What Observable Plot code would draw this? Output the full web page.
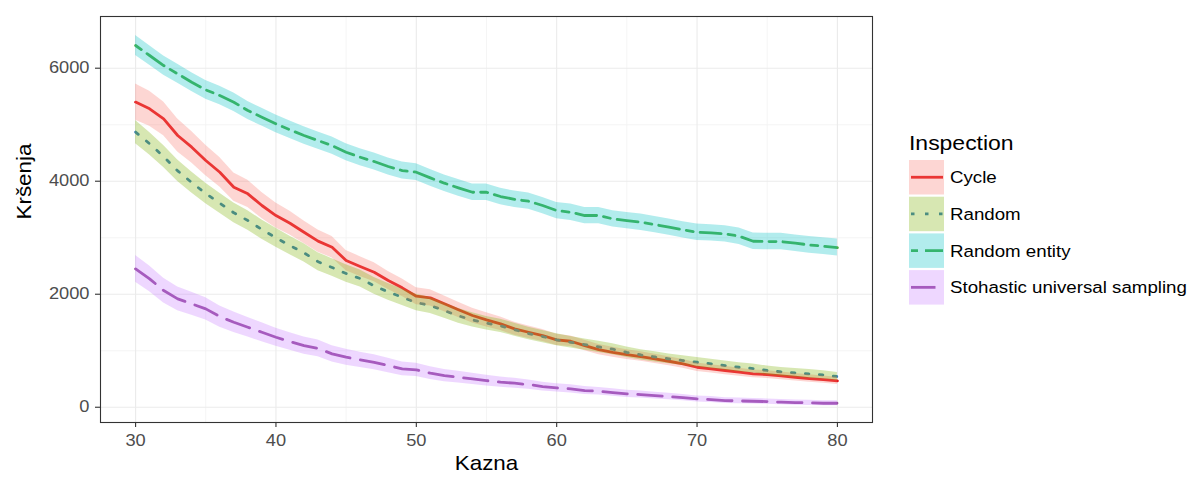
<!DOCTYPE html>
<html><head><meta charset="utf-8">
<script src="https://cdn.jsdelivr.net/npm/d3@7"></script>
<script src="https://cdn.jsdelivr.net/npm/@observablehq/plot@0.6"></script>
<style>
body{margin:0;background:#fff;font-family:"Liberation Sans",Arial,Helvetica,sans-serif;}
#wrap{position:relative;width:1189px;height:477px;}
#chart{position:absolute;left:0;top:0;}
#legend{position:absolute;left:880px;top:0;}
</style></head><body>
<div id="wrap"><div id="chart"></div><svg id="legend" width="309" height="477"></svg></div>
<script>
const kazna = [30,31,32,33,34,35,36,37,38,39,40,41,42,43,44,45,46,47,48,49,50,51,52,53,54,55,56,57,58,59,60,61,62,63,64,65,66,67,68,69,70,71,72,73,74,75,76,77,78,79,80];

const seriesNames = ["Cycle", "Random", "Random entity", "Stohastic universal sampling"];

const cycleVals = [5400,5281,5104,4809,4602,4366,4159,3894,3777,3570,3393,3257,3097,2940,2832,2596,2490,2389,2242,2113,1965,1936,1830,1724,1623,1546,1476,1388,1327,1269,1193,1168,1092,1021,973,933,897,857,814,768,708,679,650,620,591,579,555,531,508,490,467];
const cycleSe = [320,310,300,290,280,270,260,250,240,230,220,210,200,195,190,180,175,170,160,155,150,145,140,135,130,125,120,115,110,105,100,95,92,90,88,86,84,82,80,78,76,75,74,72,70,69,68,67,66,65,64];

const randomVals = [4870,4662,4437,4184,3977,3782,3611,3441,3304,3145,2998,2862,2732,2576,2473,2366,2278,2148,2042,1947,1853,1800,1711,1617,1546,1487,1441,1372,1304,1251,1193,1150,1109,1068,1027,973,926,891,856,826,797,768,738,708,685,650,626,608,590,573,543];
const randomSe = [205,200,195,190,186,182,178,175,172,170,168,165,162,160,157,155,152,150,148,147,146,140,135,130,125,120,117,114,111,108,106,103,100,98,96,94,92,90,88,86,84,83,82,81,80,79,78,77,76,75,74];

const entityVals = [6402,6225,6047,5900,5752,5617,5516,5398,5251,5133,5015,4909,4809,4720,4631,4513,4425,4349,4260,4189,4159,4059,3965,3883,3805,3805,3729,3680,3646,3570,3481,3451,3393,3393,3334,3304,3274,3233,3186,3140,3097,3086,3069,3027,2938,2932,2932,2903,2873,2850,2826];
const entitySe = [175,172,170,168,166,165,163,162,160,158,156,155,154,153,152,151,150,150,149,149,148,148,147,147,146,146,145,145,144,144,144,144,144,144,144,144,144,144,144,144,144,145,145,145,146,146,147,147,148,149,150];

const stohVals = [2449,2272,2065,1918,1830,1741,1605,1504,1416,1327,1239,1163,1092,1040,945,885,838,796,738,679,661,602,561,531,502,472,443,425,401,366,342,325,295,283,260,236,224,206,189,171,148,136,118,112,106,100,89,83,77,71,71];
const stohSe = [236,228,220,212,204,196,188,181,174,167,160,156,152,148,144,140,136,132,128,123,118,113,108,104,99,95,91,87,83,78,74,72,70,68,66,64,62,60,58,56,53,52,51,50,49,48,47,46,45,45,44];

const xMajor = [30,40,50,60,70,80];
const xMinor = [35,45,55,65,75];
const yMajor = [0,2000,4000,6000];
const yMinor = [1000,3000,5000];

const lineColors = ["#E41A1C", "#377EB8", "#4DAF4A", "#984EA3"];
const fillColors = ["#F8766D", "#7CAE00", "#00BFC4", "#C77CFF"];
const dashes = [null, "3.5,10.5", "7,7,21,7", "24.5,10.5"];

const allVals = [cycleVals, randomVals, entityVals, stohVals];
const allSe = [cycleSe, randomSe, entitySe, stohSe];

const rows = [];
seriesNames.forEach((s, i) => {
  kazna.forEach((k, j) => {
    rows.push({series: s, x: k, y: allVals[i][j], lo: allVals[i][j] - allSe[i][j], hi: allVals[i][j] + allSe[i][j]});
  });
});

const font = '"Liberation Sans", Arial, Helvetica, sans-serif';
const lineW = 2.8;
const stretch = 1.12;

const lineMarks = seriesNames.map((s, i) =>
  Plot.line(rows.filter(d => d.series === s), {
    x: "x", y: "y", stroke: lineColors[i], strokeWidth: lineW,
    strokeDasharray: dashes[i] || undefined, strokeLinejoin: "round"
  }));
const areaMarks = seriesNames.map((s, i) =>
  Plot.areaY(rows.filter(d => d.series === s), {
    x: "x", y1: "lo", y2: "hi", fill: fillColors[i], fillOpacity: 0.3
  }));

const chart = Plot.plot({
  width: 880, height: 477,
  marginLeft: 100, marginRight: 8, marginTop: 16, marginBottom: 55,
  x: {domain: [27.5, 82.5], label: null},
  y: {domain: [-270, 6915], label: null},
  style: {fontFamily: font, background: "white"},
  marks: [
    Plot.ruleX(xMinor, {stroke: "#F2F2F2", strokeWidth: 0.8}),
    Plot.ruleY(yMinor, {stroke: "#F2F2F2", strokeWidth: 0.8}),
    Plot.ruleX(xMajor, {stroke: "#EBEBEB", strokeWidth: 1.1}),
    Plot.ruleY(yMajor, {stroke: "#EBEBEB", strokeWidth: 1.1}),
    ...lineMarks,
    ...areaMarks,
    Plot.frame({stroke: "#333333", strokeWidth: 1.1}),
    Plot.axisX(xMajor, {tickSize: 5, tickPadding: 7, fontSize: 16.3, fill: "#4D4D4D", stroke: "#333333", strokeWidth: 1.1, label: null, tickFormat: d => String(d)}),
    Plot.axisY(yMajor, {tickSize: 5, tickPadding: 6, fontSize: 16.3, fill: "#4D4D4D", stroke: "#333333", strokeWidth: 1.1, label: null, tickFormat: d => String(d)}),
    Plot.text(["Kazna"], {frameAnchor: "bottom", dy: 47, fontSize: 20, fill: "black"}),
    Plot.text(["Kršenja"], {frameAnchor: "left", dx: -76, rotate: -90, fontSize: 20, fill: "black"})
  ]
});
document.getElementById("chart").appendChild(chart);

// Legend
const lg = d3.select("#legend").style("font-family", font);
lg.append("text").attr("x", 29).attr("y", 150).attr("font-size", 20.5).attr("fill", "black").text("Inspection");
seriesNames.forEach((s, i) => {
  const y0 = 160 + i * 36.7;
  const g = lg.append("g");
  g.append("rect").attr("x", 29).attr("y", y0).attr("width", 35).attr("height", 34.5).attr("fill", "white");
  const ln = g.append("line").attr("x1", 31).attr("x2", 63).attr("y1", y0 + 17.25).attr("y2", y0 + 17.25)
    .attr("stroke", lineColors[i]).attr("stroke-width", lineW);
  if (dashes[i]) ln.attr("stroke-dasharray", dashes[i]);
  g.append("rect").attr("x", 29).attr("y", y0).attr("width", 35).attr("height", 34.5)
    .attr("fill", fillColors[i]).attr("fill-opacity", 0.3);
  g.append("text").attr("x", 70).attr("y", y0 + 17.25).attr("dy", "0.36em").attr("font-size", 16.7)
    .attr("fill", "black").text(s);
});

// The reference glyphs are slightly wider than Liberation Sans: stretch text horizontally about its anchor.
const isNum = v => v != null && v !== "" && isFinite(+v);
document.querySelectorAll("#wrap text").forEach(el => {
  const xa = el.getAttribute("x"), ya = el.getAttribute("y");
  let tx = 0, ty = 0;
  if (isNum(xa)) { tx = +xa; el.removeAttribute("x"); }
  if (isNum(ya)) { ty = +ya; el.removeAttribute("y"); }
  const t = el.getAttribute("transform") || "";
  el.setAttribute("transform", `${t} translate(${tx},${ty}) scale(${stretch},1)`.trim());
});
</script></body></html>
